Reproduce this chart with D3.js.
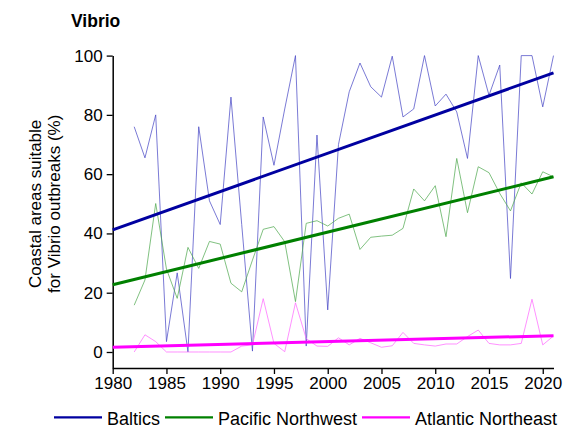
<!DOCTYPE html>
<html>
<head>
<meta charset="utf-8">
<script src="https://cdn.jsdelivr.net/npm/d3@7"></script>
<style>
  html, body { margin: 0; padding: 0; background: #fff; }
  svg { display: block; font-family: "Liberation Sans", Arial, sans-serif; }
</style>
</head>
<body>
<svg id="chart" width="583" height="427"></svg>
<script>
// ---- data ----
const years = d3.range(1982, 2022);
const baltics = [76, 65.5, 80, 3.5, 26.7, 0, 76, 51, 43, 86,
                 43, 0.3, 79.3, 63, 82, 100, 2, 73.2, 14.2, 70,
                 87.8, 97.5, 89.5, 86, 99.8, 79.3, 82, 100, 83, 87,
                 81, 65.3, 100, 86.6, 96.8, 24.8, 100, 100, 82.7, 100];
const pacific = [15.8, 24.3, 50.1, 28, 18.1, 35.3, 28.2, 37.3, 36.4, 23.2,
                 20.3, 31, 41.4, 42.3, 37.2, 17, 43.4, 44.3, 42.5, 45.1,
                 46.5, 34.6, 38.7, 39.1, 39.4, 41.7, 55, 51, 56.1, 38.9,
                 65.3, 47, 62.5, 60.5, 53.5, 47.6, 57.1, 53.3, 60.8, 59.1];
const atlantic = [0, 5.8, 3.5, 0, 0, 0, 0, 0, 0, 0,
                  2, 2.4, 18, 2.9, 0.1, 16.6, 4.5, 2, 1.9, 4.8,
                  2.4, 4.6, 3.1, 1.6, 2.1, 6.6, 2.9, 2.4, 2, 2.7,
                  2.7, 5.2, 7.4, 2.9, 2.4, 2.4, 2.9, 17.8, 2.4, 5.4];
const trendYears = [1980, 2021];
const balticsTrend = [41.2, 94.2];
const pacificTrend = [22.7, 59.1];
const atlanticTrend = [1.6, 5.5];
const seriesNames = ["Baltics", "Pacific Northwest", "Atlantic Northeast"];
const xTicks = [1980, 1985, 1990, 1995, 2000, 2005, 2010, 2015, 2020];
const yTicks = [0, 20, 40, 60, 80, 100];
const titleText = "Vibrio";
const yLabelLines = ["Coastal areas suitable", "for Vibrio outbreaks (%)"];

// ---- style ----
const trendColors = ["#0000a0", "#008000", "#ff00ff"];
const thinColors = ["#4646c4", "#50a850", "#ff66ff"];
const FS = 17;
const LFS = 18;

const svg = d3.select("#chart");
const x = d3.scaleLinear().domain([1980, 2021]).range([112.7, 553.5]);
const y = d3.scaleLinear().domain([-5.4, 100]).range([368, 55.6]);

// title
svg.append("text").attr("x", 71).attr("y", 27)
  .attr("font-size", 17.5).attr("font-weight", "bold").attr("fill", "#000")
  .text(titleText);

// y label
const yl = svg.append("text")
  .attr("transform", `translate(41,${(y(0) + y(100)) / 2}) rotate(-90)`)
  .attr("text-anchor", "middle").attr("font-size", FS).attr("fill", "#000");
yLabelLines.forEach((t, i) => {
  yl.append("tspan").attr("x", 0).attr("dy", i === 0 ? 0 : 18.5).text(t);
});

// axes
const xAxis = d3.axisBottom(x).tickValues(xTicks).tickFormat(d3.format("d"))
  .tickSizeInner(6).tickSizeOuter(0).tickPadding(3);
const yAxis = d3.axisLeft(y).tickValues(yTicks)
  .tickSizeInner(6).tickSizeOuter(0).tickPadding(4);

const gx = svg.append("g").attr("transform", `translate(0,${y.range()[0]})`).call(xAxis);
const gy = svg.append("g").attr("transform", `translate(${x.range()[0]},0)`).call(yAxis);
[gx, gy].forEach(g => {
  g.selectAll("text").attr("font-size", FS).attr("font-family", "Liberation Sans, Arial, sans-serif").attr("fill", "#000");
  g.selectAll("line,path").attr("stroke", "#000").attr("stroke-width", 1.3);
});
gx.select(".domain").attr("stroke-width", 1.5);
gy.select(".domain").attr("stroke-width", 1.5);

// thin data lines
const line = d3.line().x((d, i) => x(years[i])).y(d => y(d));
[baltics, pacific, atlantic].forEach((s, k) => {
  svg.append("path").datum(s).attr("d", line)
    .attr("fill", "none").attr("stroke", thinColors[k])
    .attr("stroke-width", 0.9).attr("stroke-opacity", 0.8)
    .attr("stroke-linejoin", "miter");
});

// trend lines
const tline = d3.line().x((d, i) => x(trendYears[i])).y(d => y(d));
[balticsTrend, pacificTrend, atlanticTrend].forEach((s, k) => {
  svg.append("path").datum(s).attr("d", tline)
    .attr("fill", "none").attr("stroke", trendColors[k]).attr("stroke-width", 3);
});

// legend
const legendX = [54, 165, 362];
const legY = 417.3;
seriesNames.forEach((n, k) => {
  svg.append("line").attr("x1", legendX[k]).attr("x2", legendX[k] + 48)
    .attr("y1", legY).attr("y2", legY)
    .attr("stroke", trendColors[k]).attr("stroke-width", 2.2);
  svg.append("text").attr("x", legendX[k] + 53).attr("y", 424.5)
    .attr("font-size", LFS).attr("fill", "#000").text(n);
});
</script>
</body>
</html>
